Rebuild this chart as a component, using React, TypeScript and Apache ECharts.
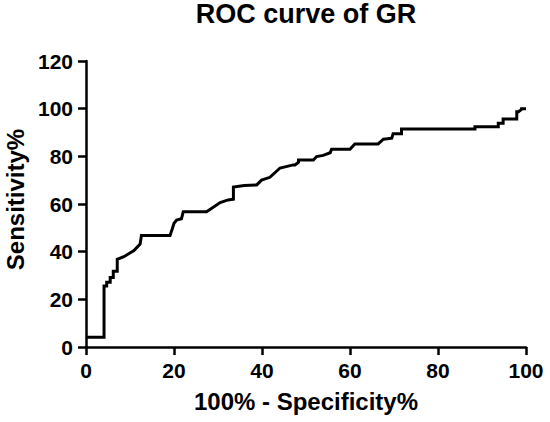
import React, { useEffect, useRef } from "react";
import * as echarts from "echarts";

const titleText = "ROC curve of GR";
const xAxisTitle = "100% - Specificity%";
const yAxisTitle = "Sensitivity%";

// 100% - Specificity% (x) and Sensitivity% (y) of the ROC curve vertices
const fprValues = [
  0, 4.1, 4.1, 4.7, 4.7, 5.5, 5.5, 6.2, 6.2, 7.1, 7.1, 8.6, 10.9, 12.3, 12.6, 19.1,
  19.6, 20, 20.6, 21.7, 22.1, 27.4, 30.5, 32.3, 33.5, 33.5, 36, 38.8, 39.9, 41.8,
  44.1, 47.1, 47.5, 48.3, 48.3, 51.7, 52.4, 53.9, 55.5, 55.8, 60, 61.1, 66.4, 67.6,
  69.5, 69.8, 71.7, 71.7, 88.4, 88.4, 93.7, 93.7, 94.8, 94.8, 97.9, 97.9, 98.3, 99,
  99, 100,
];
const tprValues = [
  4.1, 4.1, 25.6, 25.6, 27.2, 27.2, 29.2, 29.2, 31.8, 31.8, 36.8, 37.9, 40.5, 43.2, 46.8, 46.8,
  49.5, 51.9, 53.3, 53.8, 56.8, 56.8, 60.6, 61.7, 62, 67.1, 67.8, 68, 70, 71.2,
  75.1, 76.4, 76.4, 77.5, 78.5, 78.5, 79.9, 80.4, 81.5, 83, 83, 85.2, 85.2, 87.2,
  87.6, 89.5, 89.5, 91.5, 91.5, 92.4, 92.4, 93.9, 93.9, 95.7, 95.7, 98.7, 98.7, 99.7,
  100, 100,
];
const xTicks = [0, 20, 40, 60, 80, 100];
const yTicks = [0, 20, 40, 60, 80, 100, 120];

const FONT = "'Liberation Sans', Arial, Helvetica, sans-serif";

export default function App() {
  const ref = useRef<HTMLDivElement>(null);
  useEffect(() => {
    document.body.style.margin = "0";
    if (!ref.current) return;
    const chart = echarts.init(ref.current, undefined, { renderer: "svg" });
    const data = fprValues.map((x, i) => [x, tprValues[i]]);
    const axisCommon = {
      axisLine: { show: true, lineStyle: { color: "#000", width: 2.5 } },
      axisTick: { show: true, inside: false, length: 8, lineStyle: { color: "#000", width: 2.5 } },
      splitLine: { show: false },
      axisLabel: {
        color: "#000",
        fontFamily: FONT,
        fontWeight: "bold" as const,
        fontSize: 21,
        margin: 13,
      },
      nameLocation: "middle" as const,
    };
    const nameStyle = {
      color: "#000",
      fontFamily: FONT,
      fontWeight: "bold" as const,
      fontSize: 24,
    };
    chart.setOption({
      animation: false,
      backgroundColor: "#fff",
      title: {
        text: titleText,
        left: 306,
        textAlign: "center",
        top: 0,
        padding: 0,
        textStyle: { color: "#000", fontFamily: FONT, fontWeight: "bold", fontSize: 27 },
      },
      grid: {
        left: 86,
        right: 24,
        top: 61,
        bottom: 75,
        containLabel: false,
        outerBoundsMode: "none",
      },
      xAxis: {
        type: "value",
        min: xTicks[0],
        max: xTicks[xTicks.length - 1],
        interval: 20,
        name: xAxisTitle,
        nameGap: 42,
        nameTextStyle: nameStyle,
        ...axisCommon,
      },
      yAxis: {
        type: "value",
        min: yTicks[0],
        max: yTicks[yTicks.length - 1],
        interval: 20,
        name: yAxisTitle,
        nameGap: 58,
        nameTextStyle: { ...nameStyle, padding: [0, 0, 0, 9] },
        ...axisCommon,
      },
      series: [
        {
          type: "line",
          data,
          showSymbol: false,
          symbol: "none",
          smooth: false,
          lineStyle: { color: "#000", width: 3, cap: "butt", join: "miter" },
        },
      ],
    });
    return () => chart.dispose();
  }, []);
  return <div ref={ref} style={{ width: 550, height: 422 }} />;
}
